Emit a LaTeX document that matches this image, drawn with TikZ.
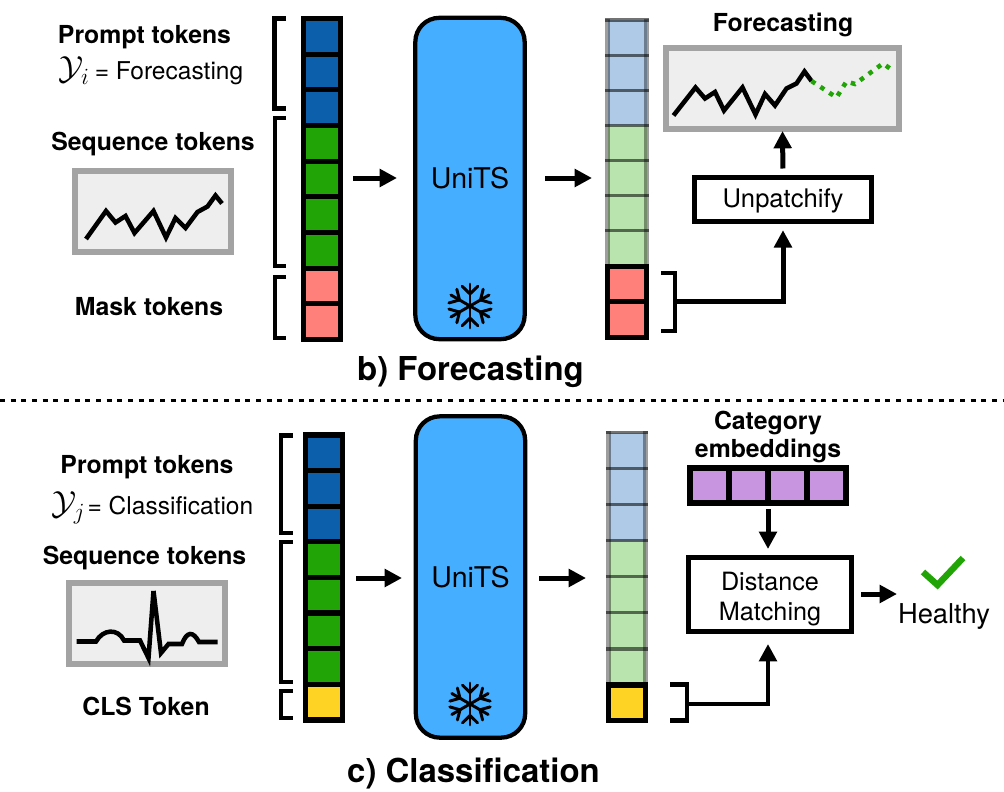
\documentclass[tikz,border=0pt]{standalone}
\usepackage{fontspec}
\setmainfont{TeX Gyre Heros}
\usetikzlibrary{arrows.meta}
\definecolor{deepblue}{HTML}{0C5FAB}
\definecolor{deepgreen}{HTML}{21A506}
\definecolor{pinkc}{HTML}{FF807B}
\definecolor{yellowc}{HTML}{FFD324}
\definecolor{paleblue}{HTML}{AECAE6}
\definecolor{palegreen}{HTML}{BAE4AE}
\definecolor{unitsblue}{HTML}{45AEFF}
\definecolor{purplec}{HTML}{C896E0}
\definecolor{chartgray}{HTML}{A3A3A3}
\definecolor{chartbg}{HTML}{EEEEEE}
\newcommand{\fsz}[1]{\fontsize{#1}{#1}\selectfont}
\newcommand{\flake}[3]{%
  \begin{scope}[shift={(#1,#2)},line width=2.2pt,line cap=round]
    \foreach \a in {30,90,150,210,270,330}{
      \draw[rotate=\a] (0,0) -- (#3,0);
      \draw[rotate=\a] (.55*#3,0) -- (.9*#3,.36*#3);
      \draw[rotate=\a] (.55*#3,0) -- (.9*#3,-.36*#3);
    }
  \end{scope}}
\tikzset{
  x=.75pt,y=-.75pt,
  cell/.style={draw=black,line width=3.75pt,minimum width=27.75pt,minimum height=26.75pt,inner sep=0,outer sep=0},
  cellc/.style={cell,line width=4pt},
  fcell/.style={minimum width=#1,inner sep=0,outer sep=0},
  fv/.style={line width=3.75pt,black,opacity=.38},
  fh/.style={line width=2.4pt,black,opacity=.55},
  units/.style={draw=black,fill=unitsblue,line width=3.2pt,rounded corners=18pt,minimum width=82pt,minimum height=241pt,inner sep=0,outer sep=0,font=\fsz{21.4}},
  chart/.style={draw=chartgray,fill=chartbg,line width=4.5pt,inner sep=0,outer sep=0},
  ser/.style={line width=3.4pt,line join=miter},
  boxb/.style={draw=black,fill=white,line width=3.75pt,inner sep=0,outer sep=0,align=center},
  lab/.style={font=\bfseries\fsz{18.6},inner sep=0},
  plain/.style={font=\fsz{18.4},inner sep=0},
  arr/.style={line width=3.75pt,-{Triangle[length=13pt,width=13pt]}},
  brk/.style={line width=3pt},
  brkb/.style={line width=3.6pt},
}
\begin{document}
\begin{tikzpicture}
\useasboundingbox (0,0) rectangle (1004,792);
\fill[white] (0,0) rectangle (1004,792);

% ---------- panel b ----------
\node[lab] (bprompt) at (144.5,37) {Prompt tokens};
\node[plain,anchor=east] (byi) at (243.5,71) {\scalebox{1.45}{$\mathcal{Y}_i$}\hspace{-1.5pt} = Forecasting};
\node[lab] (bseq) at (153,144) {Sequence tokens};
\node[chart,minimum width=117pt,minimum height=60.75pt] (bchart) at (153,211.5) {};
\draw[ser] (86,239)--(106,211)--(115.5,222.5)--(125.5,216)--(134.5,233)--(153.5,211)--(166,237.5)--(175.5,218)--(185.5,228)--(197.5,212)--(207.5,206.5)--(215.5,195.5)--(222,203.5);
\node[lab] (bmask) at (149,307) {Mask tokens};
\draw[brkb] (286,18.5)--(274.5,18.5)--(274.5,108.5)--(286,108.5);
\draw[brk] (286,118.5)--(274.5,118.5)--(274.5,265.5)--(286,265.5);
\draw[brk] (286,276.5)--(274.5,276.5)--(274.5,338)--(286,338);

\foreach \i/\c in {1/deepblue,2/deepblue,3/deepblue,4/deepgreen,5/deepgreen,6/deepgreen,7/deepgreen,8/pinkc,9/pinkc}
  \node[cell,fill=\c] (bl\i) at (322,{18.5+35.67*(\i-.5)}) {};

\node[units] (bunits) at (470,178.5) {UniTS};
\flake{470}{306}{22}

% faded column b
\foreach \i/\c in {1/paleblue,2/paleblue,3/paleblue,4/palegreen,5/palegreen,6/palegreen,7/palegreen}
  \node[fcell=29.25pt,minimum height=26.4pt,fill=\c] (br\i) at (627,{20+35.1*(\i-.5)}) {};
\draw[fv] ([yshift=1pt]br1.north west) -- (br7.south west);
\draw[fv] ([yshift=1pt]br1.north east) -- (br7.south east);
\draw[fh] ([xshift=-1.9pt]br1.north west) -- ([xshift=1.9pt]br1.north east);
\foreach \i in {1,...,6}
  \draw[fh] ([xshift=-1.9pt]br\i.south west) -- ([xshift=1.9pt]br\i.south east);
\foreach \i in {8,9}
  \node[cell,minimum width=29.25pt,fill=pinkc] (br\i) at (627,{266.5+35.5*(\i-8)+17.75}) {};

\draw[arr] (353,178) -- (397,178);
\draw[arr] (545,178) -- (592,178);

\node[lab] (btitle) at (783,25) {Forecasting};
\node[chart,minimum width=174.75pt,minimum height=60.75pt] (bout) at (782.5,88.5) {};
\draw[ser] (673.5,115.5)--(695.5,87.5)--(705,98.5)--(715,92)--(724,110.5)--(742.5,87.5)--(755.5,114.5)--(765,94)--(775,105.5)--(786.5,88.5)--(796.5,83.5)--(804.5,71.5)--(811.5,81);
\draw[line width=3.4pt,deepgreen,dash pattern=on 3.4pt off 4.6pt] (811.5,81)--(836.5,97.5)--(846.5,81.5)--(855,84)--(883,63.5)--(890,68.5);
\node[boxb,minimum width=133pt,minimum height=33pt,font=\fsz{19.2}] (unpatch) at (783,199.5) {\rule{0pt}{16.8pt}Unpatchify};
\draw[arr,shorten <=6.75pt,shorten >=1.5pt] (unpatch.north) -- (bout.south);
\draw[brk] (661,272.5)--(675,272.5)--(675,330.5)--(661,330.5);
\coordinate (bb) at (675,301);
\draw[arr,shorten >=6.5pt] (bb) -| (unpatch.south);

\node[font=\bfseries\fsz{24.7},inner sep=0] (bcap) at (470.5,371.5) {b) Forecasting};

\draw[line width=2.5pt,dash pattern=on 3.75pt off 4.25pt] (0,400.5) -- (1004,400.5);

% ---------- panel c ----------
\node[lab] (cprompt) at (147,467) {Prompt tokens};
\node[plain,anchor=east] (cyj) at (253.5,508) {\scalebox{1.45}{$\mathcal{Y}_j$}\hspace{-3.5pt} = Classification};
\node[lab] (cseq) at (144.5,558) {Sequence tokens};
\node[chart,minimum width=117pt,minimum height=60.75pt] (cchart) at (147,623.5) {};
\draw[ser] (76.5,641.5)--(96,641.5) .. controls (103,629) and (118,628) .. (124,640.5)--(140,640.5)--(148.5,658)--(153.5,591)--(161,653)--(168.5,644)--(182,644) .. controls (187,631) and (193,631) .. (199,642)--(217.5,642);
\node[lab] (ccls) at (146,706.5) {CLS Token};
\draw[brkb] (292.5,435.5)--(281,435.5)--(281,533)--(292.5,533);
\draw[brk] (292.5,542)--(281,542)--(281,681.5)--(292.5,681.5);
\draw[brkb] (292.5,691)--(281,691)--(281,718)--(292.5,718);

\foreach \i/\c in {1/deepblue,2/deepblue,3/deepblue,4/deepgreen,5/deepgreen,6/deepgreen,7/deepgreen,8/yellowc}
  \node[cellc,fill=\c] (cl\i) at (324,{435+35.6*(\i-.5)}) {};

\node[units] (cunits) at (470.5,577) {UniTS};
\flake{470}{704}{21}

% faded column c
\foreach \i/\c in {1/paleblue,2/paleblue,3/paleblue,4/palegreen,5/palegreen,6/palegreen,7/palegreen}
  \node[fcell=27.75pt,minimum height=27.05pt,fill=\c] (cr\i) at (627,{432.5+36.07*(\i-.5)}) {};
\draw[fv] ([yshift=1pt]cr1.north west) -- (cr7.south west);
\draw[fv] ([yshift=1pt]cr1.north east) -- (cr7.south east);
\draw[fh] ([xshift=-1.9pt]cr1.north west) -- ([xshift=1.9pt]cr1.north east);
\foreach \i in {1,...,6}
  \draw[fh] ([xshift=-1.9pt]cr\i.south west) -- ([xshift=1.9pt]cr\i.south east);
\node[cellc,fill=yellowc,minimum height=26.6pt] (cr8) at (627,702.7) {};

\draw[arr] (356,578) -- (402,578);
\draw[arr] (539,578) -- (586,578);

\node[lab,align=center] (ctitle) at (768,437) {Category\\[1.7pt]embeddings};
\foreach \i in {1,2,3,4}
  \node[cellc,fill=purplec,minimum width=29.25pt,minimum height=26.25pt] (pu\i) at ({690+39*(\i-.5)},485.5) {};
\node[boxb,minimum width=122.25pt,minimum height=55.5pt,font=\fsz{18.9}] (dist) at (770,594.5) {\rule{0pt}{21pt}Distance\\[3.6pt]Matching};
\coordinate (pumid) at (768,506);
\coordinate (dmtop) at (768,555);
\coordinate (dmbot) at (768,634);
\draw[arr,shorten <=2.25pt,shorten >=4.5pt] (pumid) -- (dmtop);
\draw[arr] (861,594) -- (897,594);
\draw[line width=4.8pt,deepgreen] (923,572) -- (937.5,585) -- (963,558);
\node[font=\fsz{20.5},inner sep=0] (health) at (944,617) {Healthy};
\draw[brkb] (670,684.5)--(687,684.5)--(687,720.5)--(670,720.5);
\coordinate (cb) at (687,704);
\draw[arr,line width=3.4pt,shorten >=7.5pt] (cb) -| (dmbot);

\node[font=\bfseries\fsz{24.7},inner sep=0] (ccap) at (473.5,774) {c) Classification};
\end{tikzpicture}
\end{document}
